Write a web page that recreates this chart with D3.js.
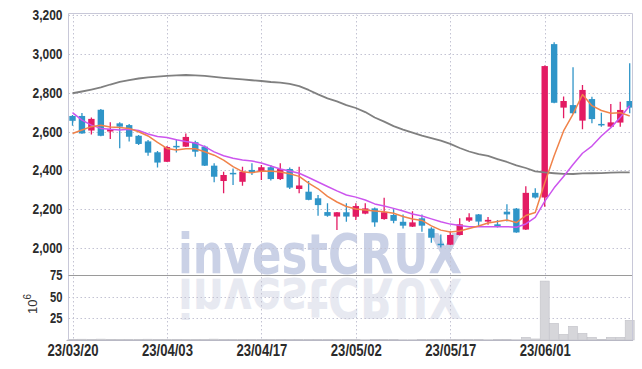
<!DOCTYPE html>
<html>
<head>
<meta charset="utf-8">
<script src="https://cdn.jsdelivr.net/npm/d3@7"></script>
<style>
body { margin: 0; background: #fff; }
svg { display: block; }
.tick text { font-family: "Liberation Sans", Arial, sans-serif; font-weight: bold; fill: #2b2b2b; }
</style>
</head>
<body>
<script>
var width = 642, height = 369;

// trading days (yy/mm/dd)
var dates = ["23/03/20","23/03/21","23/03/22","23/03/23","23/03/24","23/03/27","23/03/28","23/03/29","23/03/30","23/03/31",
  "23/04/03","23/04/04","23/04/05","23/04/06","23/04/07","23/04/10","23/04/11","23/04/12","23/04/13","23/04/14",
  "23/04/17","23/04/18","23/04/19","23/04/20","23/04/21","23/04/24","23/04/25","23/04/26","23/04/27","23/04/28",
  "23/05/02","23/05/03","23/05/04","23/05/08","23/05/09","23/05/10","23/05/11","23/05/12","23/05/15","23/05/16",
  "23/05/17","23/05/18","23/05/19","23/05/22","23/05/23","23/05/24","23/05/25","23/05/26","23/05/30","23/05/31",
  "23/06/01","23/06/02","23/06/05","23/06/07","23/06/08","23/06/09","23/06/12","23/06/13","23/06/14","23/06/15"];

var open = [2680,2680,2605,2712,2600,2642,2633,2578,2549,2493, 2444,2526,2522,2545,2522,2424,2345,2387,2341,2402,
  2394,2416,2355,2407,2304,2290,2256,2185,2162,2184, 2161,2177,2204,2149,2170,2135,2110,2153,2100,2022,
  2017,2067,2141,2173,2136,2122,2187,2203,2095,2284, 2260,3050,2723,2736,2656,2767,2639,2625,2646,2757];
var high = [2685,2695,2672,2716,2648,2648,2638,2582,2556,2500, 2525,2560,2590,2553,2528,2436,2393,2410,2419,2436,
  2427,2427,2436,2414,2419,2345,2273,2230,2186,2230, 2230,2230,2208,2259,2199,2173,2189,2173,2107,2070,
  2088,2153,2179,2175,2160,2144,2225,2206,2318,2308, 2940,3060,2780,2931,2840,2779,2697,2741,2753,2951];
var low = [2630,2588,2585,2575,2562,2514,2549,2530,2475,2415, 2443,2492,2520,2470,2422,2338,2282,2325,2321,2376,
  2350,2347,2350,2304,2282,2246,2166,2161,2093,2135, 2144,2174,2110,2146,2128,2101,2108,2084,2027,2003,
  2016,2065,2134,2108,2120,2105,2136,2079,2093,2255, 2213,2745,2668,2690,2612,2643,2625,2622,2625,2694];
var close = [2655,2590,2665,2578,2612,2625,2573,2536,2491,2440, 2520,2522,2572,2496,2424,2367,2376,2383,2393,2390,
  2416,2355,2407,2311,2322,2248,2221,2166,2184,2162, 2216,2204,2132,2184,2140,2115,2132,2115,2053,2018,
  2067,2122,2158,2136,2145,2110,2173,2080,2284,2260, 2937,2748,2757,2694,2814,2664,2636,2647,2711,2723];

// volume, 10^6 shares
var volume = [0.4,0.9,0.8,1.0,0.7,0.5,0.4,0.5,0.9,0.8, 0.6,0.4,0.5,0.4,0.5,1.0,0.6,0.4,0.5,0.4,
  0.4,0.5,0.4,0.5,0.6,0.5,0.4,0.4,0.5,0.4, 0.4,0.3,0.4,0.5,0.4,0.3,0.3,0.4,0.5,0.4,
  0.4,0.5,0.4,0.4,0.3,0.4,0.8,0.3,3.1,1.2, 68,19.2,6.5,15.8,7.7,3.1,0.8,3.1,3.1,22.7];

// moving averages
var ma5 = [2590,2608,2625,2632,2623,2620,2616,2599,2577,2544, 2513,2505,2511,2511,2496,2478,2453,2419,2393,2388,
  2395,2396,2391,2382,2369,2334,2305,2266,2237,2214, 2201,2196,2191,2187,2179,2162,2149,2142,2114,2092,
  2082,2088,2100,2113,2129,2137,2144,2131,2167,2183, 2335,2475,2603,2690,2790,2733,2708,2694,2697,2680];
var ma10 = [2697,2659,2633,2616,2611,2608,2611,2605,2587,2574, 2569,2557,2548,2541,2522,2495,2475,2462,2453,2448,
  2438,2422,2407,2397,2385,2363,2340,2317,2294,2273, 2262,2247,2227,2216,2204,2191,2175,2165,2150,2135,
  2123,2116,2110,2110,2110,2110,2110,2107,2124,2158, 2240,2310,2368,2430,2488,2525,2577,2620,2672,2733];
var ma60 = [2797,2806,2816,2827,2842,2855,2864,2873,2879,2883, 2886,2889,2891,2889,2886,2881,2876,2872,2868,2864,
  2860,2855,2852,2845,2834,2814,2791,2771,2755,2736, 2721,2700,2672,2651,2628,2610,2594,2579,2566,2553,
  2536,2515,2497,2484,2474,2458,2443,2426,2412,2395, 2389,2385,2382,2381,2384,2385,2386,2388,2389,2390];

var priceTicks = [2000,2200,2400,2600,2800,3000,3200];
var volTicks = [25,50,75];
var dateTickIdx = [0,10,20,30,40,50];

var pL = 68.5, pR = 632, pT = 13, pSplit = 275, pB = 340;

var x = d3.scaleLinear().domain([0, 59]).range([72.5, 629.7]);
var y = d3.scaleLinear().domain([2000, 3200]).range([248, 15]);
var yv = d3.scaleLinear().domain([0, 75]).range([pB, pSplit]);

var svg = d3.select("body").append("svg")
  .attr("width", width)
  .attr("height", height);

svg.append("rect").attr("width", width).attr("height", height).attr("fill", "#fff");

var defs = svg.append("defs");
defs.append("clipPath").attr("id", "priceClip")
  .append("rect").attr("x", pL).attr("y", pT).attr("width", pR - pL).attr("height", pSplit - pT);
defs.append("clipPath").attr("id", "reflClip")
  .append("rect").attr("x", pL).attr("y", pSplit + 1).attr("width", pR - pL).attr("height", 44);

// watermark + reflection
var wm = svg.append("g").attr("font-family", "DejaVu Sans, sans-serif").attr("font-weight", "bold");
wm.append("text")
  .attr("x", 178).attr("y", 273)
  .attr("font-size", 55)
  .attr("textLength", 284).attr("lengthAdjust", "spacingAndGlyphs")
  .attr("fill", "#cad1e6")
  .text("investCRUX");
wm.append("g").attr("clip-path", "url(#reflClip)")
  .append("text")
  .attr("transform", "translate(0," + (2 * 276) + ") scale(1,-1)")
  .attr("x", 178).attr("y", 273)
  .attr("font-size", 55)
  .attr("textLength", 284).attr("lengthAdjust", "spacingAndGlyphs")
  .attr("fill", "#e7e9f1")
  .text("investCRUX");

// grids
var grid = svg.append("g").attr("stroke", "#c3c3d3").attr("stroke-dasharray", "1.5,2.5").attr("stroke-width", 1);
grid.selectAll(".hg").data(priceTicks).enter().append("line")
  .attr("x1", pL).attr("x2", pR)
  .attr("y1", function(d) { return Math.round(y(d)) + 0.5; })
  .attr("y2", function(d) { return Math.round(y(d)) + 0.5; });
grid.selectAll(".vg").data([25, 50]).enter().append("line")
  .attr("x1", pL).attr("x2", pR)
  .attr("y1", function(d) { return Math.round(yv(d)) + 0.5; })
  .attr("y2", function(d) { return Math.round(yv(d)) + 0.5; });
grid.selectAll(".xg").data(dateTickIdx).enter().append("line")
  .attr("y1", pT).attr("y2", pB)
  .attr("x1", function(d) { return Math.round(x(d)) + 0.5; })
  .attr("x2", function(d) { return Math.round(x(d)) + 0.5; });

// volume bars
svg.append("g").selectAll("rect").data(volume).enter().append("rect")
  .attr("x", function(d, i) { return x(i) - 4.5; })
  .attr("width", 9)
  .attr("y", function(d) { return yv(d); })
  .attr("height", function(d) { return pB - yv(d); })
  .attr("fill", "#d6d6da")
  .attr("stroke", "#c2c2c8")
  .attr("stroke-width", 0.6);

// candles
var up = "#e31b63", down = "#2f95c8";
var pg = svg.append("g").attr("clip-path", "url(#priceClip)");
var candle = pg.selectAll(".c").data(d3.range(dates.length)).enter().append("g");
candle.append("line")
  .attr("x1", function(i) { return x(i); }).attr("x2", function(i) { return x(i); })
  .attr("y1", function(i) { return y(high[i]); }).attr("y2", function(i) { return y(low[i]); })
  .attr("stroke", function(i) { return close[i] > open[i] ? up : down; })
  .attr("stroke-width", 1.3);
candle.append("rect")
  .attr("x", function(i) { return x(i) - 3.2; })
  .attr("width", 6.4)
  .attr("y", function(i) { return y(Math.max(open[i], close[i])); })
  .attr("height", function(i) { return Math.max(1.5, Math.abs(y(open[i]) - y(close[i]))); })
  .attr("fill", function(i) { return close[i] > open[i] ? up : down; });

// moving averages
function maLine(vals, color, w) {
  pg.append("path")
    .datum(vals)
    .attr("fill", "none")
    .attr("stroke", color)
    .attr("stroke-width", w)
    .attr("stroke-linejoin", "round")
    .attr("d", d3.line().x(function(d, i) { return x(i); }).y(function(d) { return y(d); }));
}
maLine(ma60, "#808080", 1.8);
maLine(ma10, "#cc55ee", 1.5);
maLine(ma5, "#f0834a", 1.5);

// frame
var frame = svg.append("g").attr("fill", "none");
frame.append("path")
  .attr("d", "M" + pL + "," + pB + "V" + (pT + 0.5) + "H" + (pR + 0.5) + "V" + pB)
  .attr("stroke", "#c8c8d8").attr("stroke-width", 1);
frame.append("line").attr("x1", pL).attr("x2", pR).attr("y1", pSplit + 0.5).attr("y2", pSplit + 0.5)
  .attr("stroke", "#9a9a9a");
frame.append("line").attr("x1", pL - 2).attr("x2", pR + 1).attr("y1", pB + 0.5).attr("y2", pB + 0.5)
  .attr("stroke", "#b8b8c4");

// axes
var yAxis = svg.append("g").attr("transform", "translate(" + pL + ",0)")
  .call(d3.axisLeft(y).tickValues(priceTicks).tickFormat(d3.format(",")).tickSize(0).tickPadding(6));
yAxis.select(".domain").remove();
yAxis.selectAll("text").attr("font-size", 14.5)
  .attr("textLength", 30).attr("lengthAdjust", "spacingAndGlyphs");

var vAxis = svg.append("g").attr("transform", "translate(" + pL + ",0)")
  .call(d3.axisLeft(yv).tickValues(volTicks).tickSize(0).tickPadding(6));
vAxis.select(".domain").remove();
vAxis.selectAll("text").attr("font-size", 14.5)
  .attr("textLength", 12.5).attr("lengthAdjust", "spacingAndGlyphs");

var xAxis = svg.append("g").attr("transform", "translate(0," + pB + ")")
  .call(d3.axisBottom(x).tickValues(dateTickIdx).tickFormat(function(i) { return dates[i]; }).tickSize(0).tickPadding(5));
xAxis.select(".domain").remove();
xAxis.selectAll("text").attr("font-size", 16)
  .attr("textLength", 51).attr("lengthAdjust", "spacingAndGlyphs");

// unit label
var unit = svg.append("text")
  .attr("transform", "translate(37,314) rotate(-90)")
  .attr("font-family", "Liberation Sans, Arial, sans-serif")
  .attr("font-size", 13)
  .attr("fill", "#333");
unit.append("tspan").text("10");
unit.append("tspan").attr("dy", -6).attr("font-size", 10).text("6");
</script>
</body>
</html>
